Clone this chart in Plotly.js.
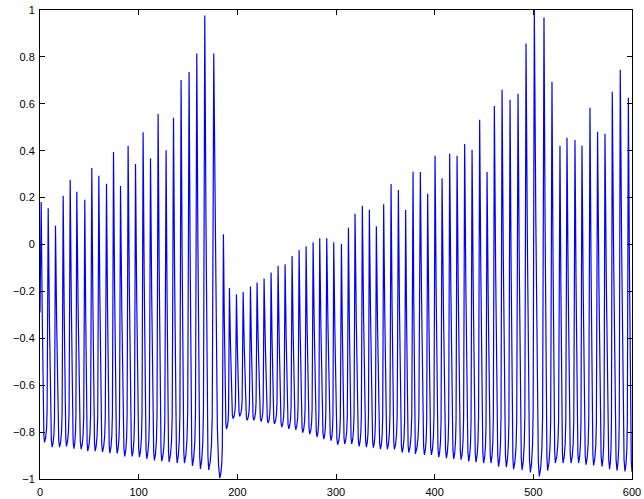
<!DOCTYPE html>
<html><head><meta charset="utf-8">
<script src="https://cdn.plot.ly/plotly-3.0.1.min.js"></script>
<style>html,body{margin:0;padding:0;background:#fff}#chart{width:644px;height:499px}</style>
</head><body><div id="chart"></div>
<script>
// Spike peaks (x, value)
const peakX = [1.2, 8.3, 15.7, 23.5, 30.6, 37.3, 45.4, 52.5, 59.6, 67.4,
  74.5, 81.6, 89.3, 96.8, 104.5, 112.0, 119.7, 127.8, 135.3, 143.0,
  151.1, 158.9, 167.0, 176.1, 185.9, 192.0, 199.1, 205.9, 213.3, 220.0,
  227.1, 234.2, 241.3, 248.4, 255.5, 262.6, 269.7, 276.8, 283.5, 290.6,
  297.7, 305.5, 312.6, 319.3, 326.7, 333.8, 340.9, 348.3, 355.8, 363.2,
  370.6, 378.1, 385.5, 392.9, 400.4, 407.5, 415.2, 422.7, 430.4, 437.9,
  445.6, 453.1, 460.5, 468.3, 476.4, 484.5, 492.6, 501.0, 510.8, 518.9,
  527.0, 534.1, 542.2, 549.3, 557.4, 565.1, 572.6, 580.0, 588.1, 596.3];
const peakY = [0.181, 0.155, 0.080, 0.208, 0.276, 0.225, 0.191, 0.326, 0.293, 0.259,
  0.394, 0.249, 0.421, 0.343, 0.479, 0.368, 0.556, 0.402, 0.540, 0.702,
  0.736, 0.815, 0.977, 0.814, 0.044, -0.186, -0.212, -0.203, -0.179, -0.162,
  -0.145, -0.119, -0.092, -0.084, -0.049, -0.024, -0.007, 0.010, 0.027, 0.027,
  0.010, 0.002, 0.071, 0.131, 0.165, 0.148, 0.078, 0.172, 0.258, 0.232,
  0.147, 0.310, 0.309, 0.216, 0.378, 0.283, 0.387, 0.378, 0.429, 0.404,
  0.532, 0.309, 0.591, 0.660, 0.617, 0.643, 0.857, 1.000, 0.968, 0.694,
  0.421, 0.455, 0.446, 0.421, 0.583, 0.481, 0.472, 0.651, 0.745, 0.626];
// Troughs following each peak (last one is the end of the record)
const troughX = [4.6, 12.3, 19.8, 26.8, 34.3, 41.7, 48.4, 55.9, 63.3, 70.8,
  78.2, 85.9, 93.4, 100.8, 108.2, 116.0, 123.4, 130.9, 139.0, 146.4,
  154.5, 162.6, 171.0, 182.2, 189.0, 195.7, 202.4, 209.9, 216.6, 224.1,
  231.2, 237.6, 245.0, 252.1, 259.2, 266.3, 273.4, 280.8, 287.6, 295.0,
  301.7, 308.8, 315.9, 323.4, 330.8, 337.9, 345.0, 352.1, 359.2, 367.0,
  373.7, 380.4, 389.6, 396.7, 404.1, 411.9, 419.3, 426.8, 434.5, 441.9,
  449.6, 457.1, 464.8, 472.6, 480.0, 488.6, 497.0, 506.1, 514.5, 522.3,
  530.1, 538.2, 545.9, 553.4, 561.1, 569.6, 577.3, 584.8, 592.9, 600.0];
const troughY = [-0.844, -0.864, -0.864, -0.861, -0.871, -0.873, -0.881, -0.881, -0.885, -0.890,
  -0.891, -0.904, -0.904, -0.907, -0.914, -0.921, -0.924, -0.927, -0.932, -0.932,
  -0.944, -0.957, -0.961, -0.996, -0.787, -0.743, -0.733, -0.750, -0.750, -0.755,
  -0.762, -0.765, -0.779, -0.786, -0.790, -0.802, -0.809, -0.821, -0.830, -0.836,
  -0.854, -0.851, -0.851, -0.861, -0.864, -0.866, -0.873, -0.873, -0.874, -0.887,
  -0.887, -0.893, -0.897, -0.897, -0.907, -0.911, -0.915, -0.918, -0.925, -0.928,
  -0.932, -0.932, -0.947, -0.949, -0.958, -0.961, -0.972, -0.989, -0.964, -0.932,
  -0.932, -0.932, -0.932, -0.939, -0.942, -0.947, -0.958, -0.964, -0.968, -0.970];
// Start of the record
const startX = 0, startY = -0.29;
// Shape of one cycle (fraction of time, fraction of height)
const fallT = [0.3, 0.6, 0.8];
const fallL = [0.55, 0.12, 0.03];
const riseT = [0.3, 0.55, 0.7, 0.85];
const riseL = [0.02, 0.06, 0.13, 0.55];

const xTicks = [0, 100, 200, 300, 400, 500, 600];
const xTickLabels = ['0', '100', '200', '300', '400', '500', '600'];
const yTicks = [-1, -0.8, -0.6, -0.4, -0.2, 0, 0.2, 0.4, 0.6, 0.8, 1];
const yTickLabels = ['\u22121', '\u22120.8', '\u22120.6', '\u22120.4', '\u22120.2', '0', '0.2', '0.4', '0.6', '0.8', '1'];

const xs = [startX], ys = [startY];
for (let i = 0; i < peakX.length; i++) {
  xs.push(peakX[i]); ys.push(peakY[i]);
  if (i < troughX.length) {
    const dF = troughX[i] - peakX[i], hF = peakY[i] - troughY[i];
    for (let k = 0; k < fallT.length; k++) {
      xs.push(peakX[i] + fallT[k] * dF); ys.push(troughY[i] + fallL[k] * hF);
    }
    xs.push(troughX[i]); ys.push(troughY[i]);
    if (i + 1 < peakX.length) {
      const dR = peakX[i + 1] - troughX[i], hR = peakY[i + 1] - troughY[i];
      for (let k = 0; k < riseT.length; k++) {
        xs.push(troughX[i] + riseT[k] * dR); ys.push(troughY[i] + riseL[k] * hR);
      }
    }
  }
}

const font = {family: 'Liberation Sans, Arial, Helvetica, sans-serif', size: 11, color: '#000'};
const axisCommon = {
  showline: true, linecolor: '#000', linewidth: 1, mirror: 'ticks',
  ticks: 'inside', ticklen: 5, tickwidth: 1, tickcolor: '#000',
  showgrid: false, zeroline: false, tickfont: font, fixedrange: true
};
Plotly.newPlot('chart', [{
  x: xs, y: ys, type: 'scatter', mode: 'lines',
  line: {color: '#0000ff', width: 1.2}, hoverinfo: 'skip'
}], {
  width: 644, height: 499,
  margin: {l: 40, r: 12, t: 10, b: 20},
  paper_bgcolor: '#fff', plot_bgcolor: '#fff',
  showlegend: false,
  xaxis: Object.assign({}, axisCommon, {range: [0, 600], tickmode: 'array', tickvals: xTicks, ticktext: xTickLabels, ticklabelstandoff: 3}),
  yaxis: Object.assign({}, axisCommon, {range: [-1, 1], tickmode: 'array', tickvals: yTicks, ticktext: yTickLabels, ticklabelstandoff: 2})
}, {displayModeBar: false, staticPlot: true});
</script>
</body></html>
